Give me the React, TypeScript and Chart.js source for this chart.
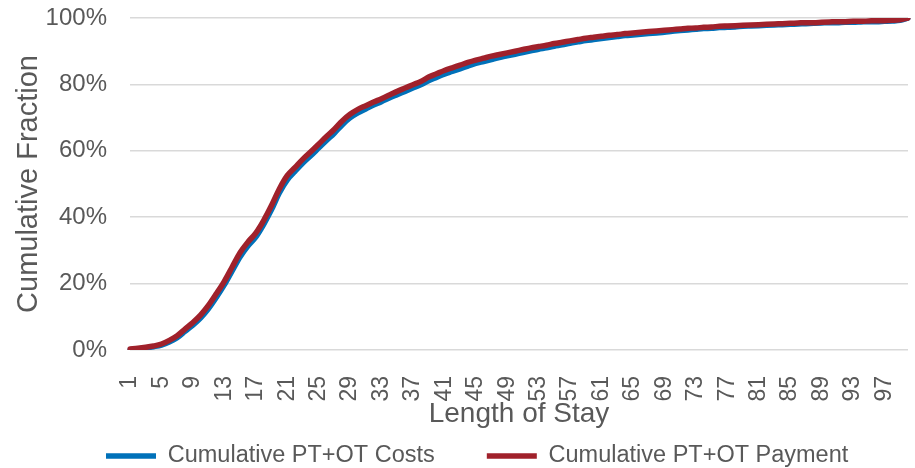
import React, { useEffect, useRef } from "react";
import { Chart, registerables } from "chart.js";

Chart.register(...registerables);

// Length of stay in days, 1..100
const lengthOfStay: string[] = Array.from({ length: 100 }, (_, i) => String(i + 1));

// Only every fourth day gets a printed tick label (1, 5, 9, ... 97)
const TICK_EVERY = 4;

// Cumulative share (%) of PT+OT costs by length of stay
const cumulativeCosts: number[] = [
  0.1, 0.3, 0.6, 1.0, 1.5, 2.4, 3.7, 5.6, 7.5, 9.7,
  12.5, 15.9, 19.6, 23.8, 28.0, 31.3, 34.0, 37.8, 42.2, 47.3,
  51.2, 53.8, 56.3, 58.5, 60.8, 63.1, 65.3, 67.8, 69.9, 71.4,
  72.6, 73.8, 74.8, 75.9, 76.9, 77.9, 78.9, 79.9, 81.1, 82.1,
  83.1, 83.9, 84.7, 85.5, 86.3, 86.9, 87.5, 88.1, 88.6, 89.1,
  89.6, 90.1, 90.6, 91.0, 91.5, 91.9, 92.4, 92.8, 93.2, 93.5,
  93.8, 94.1, 94.4, 94.7, 94.9, 95.1, 95.3, 95.5, 95.7, 96.0,
  96.2, 96.4, 96.6, 96.8, 96.9, 97.1, 97.2, 97.3, 97.5, 97.6,
  97.7, 97.8, 97.9, 98.0, 98.1, 98.2, 98.3, 98.4, 98.5, 98.6,
  98.6, 98.7, 98.7, 98.8, 98.9, 98.9, 99.0, 99.1, 99.3, 100,
];

// Cumulative share (%) of PT+OT payment by length of stay
const cumulativePayment: number[] = [
  0.3, 0.5, 0.8, 1.2, 1.8, 2.9, 4.3, 6.3, 8.3, 10.6,
  13.5, 17.0, 20.7, 25.0, 29.3, 32.5, 35.2, 39.0, 43.5, 48.5,
  52.5, 55.0, 57.5, 59.7, 62.0, 64.3, 66.5, 69.0, 71.0, 72.5,
  73.6, 74.7, 75.7, 76.8, 77.9, 78.9, 79.9, 80.9, 82.2, 83.2,
  84.2, 85.0, 85.8, 86.6, 87.3, 87.9, 88.5, 89.0, 89.5, 90.0,
  90.5, 91.0, 91.4, 91.8, 92.3, 92.7, 93.1, 93.5, 93.9, 94.2,
  94.5, 94.8, 95.0, 95.3, 95.5, 95.7, 95.9, 96.1, 96.3, 96.5,
  96.7, 96.9, 97.0, 97.2, 97.3, 97.5, 97.6, 97.7, 97.8, 97.9,
  98.0, 98.1, 98.2, 98.3, 98.4, 98.5, 98.6, 98.6, 98.7, 98.8,
  98.9, 98.9, 99.0, 99.0, 99.1, 99.2, 99.2, 99.3, 99.5, 100,
];

const seriesNames = ["Cumulative PT+OT Costs", "Cumulative PT+OT Payment"];

const WIDTH = 915;
const HEIGHT = 468;
const TEXT = "#595959";
const GRID = "#d9d9d9";
const BLUE = "#0071B9";
const RED = "#A0212B";
const FONT = "'Liberation Sans', Arial, Helvetica, sans-serif";

// Legend row geometry
const LEGEND_BAND = 36;
const LEGEND_X = 106;
const LEGEND_CENTER_Y = 456;
const LEGEND_FONT = 23.5;
const LEGEND_GAP = 52;

// Keeps the legend in a slim band while spacing its two items widely apart
const legendRow = {
  id: "legendRow",
  beforeLayout(chart: any) {
    const lg = chart.legend;
    if (lg && !lg._bandFit) {
      const fit = lg.fit;
      lg.fit = function () {
        fit.call(this);
        this.height = LEGEND_BAND;
      };
      lg._bandFit = true;
    }
  },
  afterLayout(chart: any) {
    const lg = chart.legend;
    if (!lg) return;
    const pad = lg.options.labels.padding;
    lg.left = LEGEND_X - pad;
    lg.right = chart.width;
    lg.top = LEGEND_CENTER_Y - LEGEND_FONT / 2 - pad;
  },
};

export default function App() {
  const canvasRef = useRef<HTMLCanvasElement | null>(null);

  useEffect(() => {
    if (!canvasRef.current) return;
    Chart.defaults.font.family = FONT;
    Chart.defaults.color = TEXT;

    const chart = new Chart(canvasRef.current, {
      type: "line",
      data: {
        labels: lengthOfStay,
        datasets: [
          {
            label: seriesNames[0],
            data: cumulativeCosts,
            borderColor: BLUE,
            backgroundColor: BLUE,
            borderWidth: 5.5,
            borderCapStyle: "round",
            borderJoinStyle: "round",
            pointRadius: 0,
            cubicInterpolationMode: "monotone",
            order: 2,
          },
          {
            label: seriesNames[1],
            data: cumulativePayment,
            borderColor: RED,
            backgroundColor: RED,
            borderWidth: 5.5,
            borderCapStyle: "round",
            borderJoinStyle: "round",
            pointRadius: 0,
            cubicInterpolationMode: "monotone",
            order: 1,
          },
        ],
      },
      options: {
        responsive: false,
        animation: false,
        layout: { padding: { top: 18, right: 7, bottom: 0, left: 0 } },
        plugins: {
          tooltip: { enabled: false },
          legend: {
            position: "bottom",
            align: "start",
            labels: {
              usePointStyle: true,
              pointStyle: "line",
              pointStyleWidth: 50,
              padding: LEGEND_GAP,
              color: TEXT,
              font: { size: LEGEND_FONT, family: FONT },
              sort: (a: any, b: any) => a.datasetIndex - b.datasetIndex,
            },
          },
        },
        scales: {
          x: {
            type: "category",
            offset: false,
            grid: { display: false },
            border: { display: false },
            ticks: {
              autoSkip: false,
              minRotation: 90,
              maxRotation: 90,
              padding: 18,
              color: TEXT,
              font: { size: 23, family: FONT },
              callback: (_v: any, i: number) =>
                i % TICK_EVERY === 0 ? lengthOfStay[i] : "",
            },
            title: {
              display: true,
              text: "Length of Stay",
              color: TEXT,
              font: { size: 28, family: FONT },
              padding: { top: 0, bottom: 1 },
            },
            afterFit: (s: any) => {
              s.height = 82;
              s.paddingLeft = 0;
              s.paddingRight = 0;
            },
          },
          y: {
            min: 0,
            max: 100,
            grid: { color: GRID, lineWidth: 1.5, drawTicks: false },
            border: { display: false },
            ticks: {
              stepSize: 20,
              padding: 23,
              color: TEXT,
              font: { size: 24, family: FONT },
              callback: (v: any) => `${v}%`,
            },
            title: {
              display: true,
              text: "Cumulative Fraction",
              color: TEXT,
              font: { size: 29, family: FONT },
              padding: { top: 12, bottom: 0 },
            },
            afterFit: (s: any) => {
              s.width = 130;
              s.paddingTop = 0;
              s.paddingBottom = 0;
            },
          },
        },
      },
      plugins: [legendRow],
    } as any);

    return () => chart.destroy();
  }, []);

  return (
    <div
      style={{
        position: "fixed",
        left: 0,
        top: 0,
        width: WIDTH,
        height: HEIGHT,
        background: "#ffffff",
      }}
    >
      <canvas ref={canvasRef} width={WIDTH} height={HEIGHT} />
    </div>
  );
}
